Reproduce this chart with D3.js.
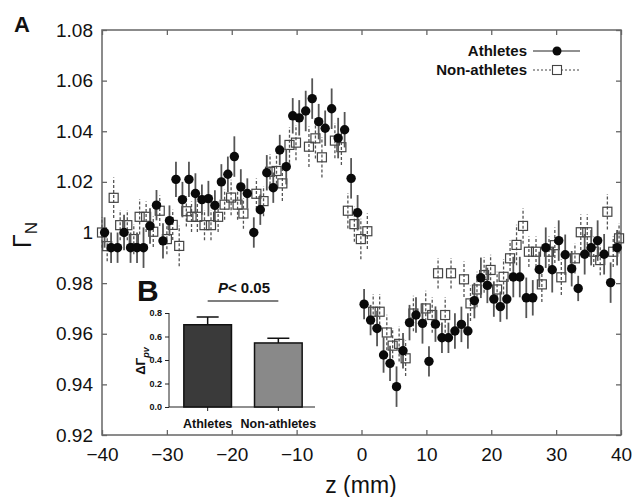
<!DOCTYPE html>
<html>
<head>
<meta charset="utf-8">
<script src="https://cdn.jsdelivr.net/npm/d3@7"></script>
<style>
  body { margin: 0; background: #fff; }
  svg { display: block; font-family: "Liberation Sans", Arial, sans-serif; }
</style>
</head>
<body>
<svg id="chart" width="636" height="497"></svg>
<script>
// athletes (filled circles), z in mm
var athZ = [-39.6,-38.6,-37.6,-36.6,-35.6,-34.6,-33.6,-32.6,-31.6,-30.6,-29.6,-28.6,-27.6,-26.6,-25.6,-24.6,-23.6,-22.6,-21.6,-20.6,
  -19.6,-18.6,-17.6,-16.6,-15.6,-14.6,-13.6,-12.6,-11.6,-10.6,-9.6,-8.6,-7.6,-6.6,-5.6,-4.6,-3.6,-2.6,-1.6,-0.6,
  0.4,1.4,2.4,3.4,4.4,5.4,6.4,7.4,8.4,9.4,10.4,11.4,12.4,13.4,14.4,15.4,16.4,17.4,18.4,19.4,
  20.4,21.4,22.4,23.4,24.4,25.4,26.4,27.4,28.4,29.4,30.4,31.4,32.4,33.4,34.4,35.4,36.4,37.4,38.4,39.4]
var athVal = [1.000,0.994,0.994,1.000,0.994,0.994,0.994,1.0026,1.0108,0.9967,1.0047,1.021,1.013,1.021,1.0154,1.013,1.0134,1.0107,1.020,1.023,
  1.030,1.018,1.0154,1.000,1.009,1.0236,1.0177,1.0326,1.026,1.0461,1.0453,1.048,1.0529,1.0438,1.0412,1.0489,1.0373,1.0406,1.0214,1.0078,
  0.9717,0.9654,0.9621,0.9516,0.9483,0.9391,0.9533,0.9644,0.9674,0.9641,0.9491,0.9638,0.9584,0.9584,0.9611,0.9637,0.9611,0.9731,0.9821,0.9791,
  0.9737,0.9707,0.9737,0.9824,0.9824,0.9742,0.9742,0.9854,0.9940,0.9853,0.9968,0.9912,0.9857,0.9779,0.9914,0.9940,0.9968,0.9914,0.9802,0.9940]
var athErr = [0.006,0.006,0.006,0.007,0.006,0.006,0.008,0.007,0.006,0.007,0.006,0.007,0.007,0.007,0.008,0.006,0.007,0.006,0.007,0.007,
  0.008,0.007,0.006,0.006,0.006,0.007,0.006,0.006,0.007,0.007,0.007,0.008,0.008,0.007,0.007,0.008,0.008,0.007,0.008,0.007,
  0.006,0.006,0.007,0.007,0.007,0.008,0.007,0.007,0.007,0.008,0.006,0.007,0.006,0.006,0.007,0.007,0.007,0.007,0.008,0.007,
  0.007,0.006,0.008,0.008,0.008,0.008,0.007,0.007,0.008,0.009,0.008,0.008,0.007,0.005,0.008,0.007,0.008,0.008,0.008,0.007]

// non-athletes (open squares)
var nonZ = [-40.0,-39.2,-38.2,-37.2,-36.1,-35.1,-34.2,-33.2,-32.1,-31.1,-30.0,-29.1,-28.1,-27.0,-26.2,-25.3,-24.2,-23.2,-22.1,-21.1,
  -20.1,-19.1,-18.2,-16.2,-15.1,-14.1,-13.1,-12.2,-11.1,-10.1,-8.1,-7.1,-6.1,-4.1,-3.1,-2.1,-1.1,-0.1,0.9,1.8,
  2.8,3.9,4.8,5.8,6.8,8.0,9.9,10.9,11.8,12.9,13.8,15.8,16.8,17.8,18.9,19.9,20.9,21.9,22.9,23.9,
  24.9,25.8,26.9,27.8,28.9,29.8,30.8,32.9,33.8,34.8,35.8,36.8,37.9,38.8,39.7]
var nonVal = [1.000,0.9946,1.0137,1.0029,1.0029,0.9974,1.0062,1.0062,1.0003,1.0086,0.9974,1.003,0.9947,1.0084,1.0062,1.0062,1.0029,1.0029,1.0062,1.011,
  1.0138,1.011,1.0075,1.0153,1.0124,1.024,1.0243,1.0194,1.0346,1.0355,1.0339,1.0372,1.0297,1.0363,1.0337,1.0086,1.0033,0.9974,1.0005,0.9687,
  0.9687,0.9605,0.9553,0.956,0.9503,0.968,0.970,0.9674,0.9839,0.9674,0.9839,0.9815,0.9720,0.9775,0.9832,0.9852,0.9775,0.9825,0.9898,0.9951,
  1.0026,0.9924,0.9924,0.9795,0.9924,0.9950,0.9823,0.9898,1.0001,1.0001,0.9924,0.9891,1.0082,0.9924,0.9977]
var nonErr = [0.006,0.006,0.008,0.006,0.006,0.006,0.007,0.006,0.006,0.006,0.006,0.006,0.008,0.006,0.006,0.006,0.006,0.006,0.006,0.006,
  0.007,0.006,0.006,0.006,0.006,0.007,0.007,0.007,0.007,0.007,0.008,0.008,0.008,0.007,0.007,0.007,0.007,0.008,0.007,0.007,
  0.007,0.007,0.007,0.007,0.007,0.007,0.007,0.007,0.006,0.007,0.006,0.007,0.007,0.007,0.007,0.006,0.007,0.007,0.007,0.008,
  0.007,0.006,0.006,0.007,0.006,0.007,0.007,0.006,0.007,0.007,0.006,0.006,0.007,0.006,0.006]

var xTicks = [-40,-30,-20,-10,0,10,20,30,40]
var yTicks = [0.92,0.94,0.96,0.98,1.00,1.02,1.04,1.06,1.08]

// inset B
var groups = ["Athletes", "Non-athletes"]
var groupVal = [0.70, 0.545]
var groupErr = [0.065, 0.04]
var insetTicks = [0, 0.2, 0.4, 0.6, 0.8]

var svg = d3.select("#chart")

var x = d3.scaleLinear().domain([-40, 40]).range([102, 621])
var y = d3.scaleLinear().domain([0.92, 1.08]).range([435, 30])

var frameColor = "#666"

// axes with inward ticks on all four sides
function styleAxis(g) {
  g.select(".domain").remove()
  g.selectAll(".tick line").attr("stroke", frameColor).attr("stroke-width", 1.3)
  g.selectAll("text").attr("fill", "#111").attr("font-size", 19)
}
svg.append("g").attr("transform", "translate(0,435)")
  .call(d3.axisBottom(x).tickValues(xTicks).tickSize(-5).tickPadding(13))
  .call(styleAxis)
svg.append("g").attr("transform", "translate(0,30)")
  .call(d3.axisTop(x).tickValues(xTicks).tickSize(-5).tickFormat(""))
  .call(styleAxis)
svg.append("g").attr("transform", "translate(102,0)")
  .call(d3.axisLeft(y).tickValues(yTicks).tickSize(-5).tickPadding(9)
    .tickFormat(d => Math.abs(d - 1) < 1e-9 ? "1" : d3.format(".2f")(d)))
  .call(styleAxis)
svg.append("g").attr("transform", "translate(621,0)")
  .call(d3.axisRight(y).tickValues(yTicks).tickSize(-5).tickFormat(""))
  .call(styleAxis)

svg.append("rect")
  .attr("x", x(-40)).attr("y", y(1.08))
  .attr("width", x(40) - x(-40)).attr("height", y(0.92) - y(1.08))
  .attr("fill", "none").attr("stroke", frameColor).attr("stroke-width", 1.5)

var athData = athZ.map((z, i) => ({z: z, v: athVal[i], e: athErr[i]}))
var nonData = nonZ.map((z, i) => ({z: z, v: nonVal[i], e: nonErr[i]}))

// non-athletes first, squares below the circles
var nonG = svg.append("g")
nonG.selectAll("line").data(nonData).join("line")
  .attr("x1", d => x(d.z)).attr("x2", d => x(d.z))
  .attr("y1", d => y(d.v - d.e)).attr("y2", d => y(d.v + d.e))
  .attr("stroke", "#555").attr("stroke-width", 1.3).attr("stroke-dasharray", "3,2")
nonG.selectAll("rect").data(nonData).join("rect")
  .attr("x", d => x(d.z) - 4.5).attr("y", d => y(d.v) - 4.5)
  .attr("width", 9).attr("height", 9)
  .attr("fill", "none").attr("stroke", "#444").attr("stroke-width", 1.2)

var athG = svg.append("g")
athG.selectAll("line").data(athData).join("line")
  .attr("x1", d => x(d.z)).attr("x2", d => x(d.z))
  .attr("y1", d => y(d.v - d.e)).attr("y2", d => y(d.v + d.e))
  .attr("stroke", "#555").attr("stroke-width", 1.8)
athG.selectAll("circle").data(athData).join("circle")
  .attr("cx", d => x(d.z)).attr("cy", d => y(d.v)).attr("r", 4.7)
  .attr("fill", "#0a0a0a")

// legend
var leg = svg.append("g").attr("font-weight", "bold").attr("font-size", 15).attr("fill", "#111")
leg.append("text").attr("x", 527).attr("y", 56).attr("text-anchor", "end").text("Athletes")
leg.append("line").attr("x1", 533).attr("x2", 580).attr("y1", 51).attr("y2", 51)
  .attr("stroke", "#222").attr("stroke-width", 1)
leg.append("circle").attr("cx", 557).attr("cy", 51).attr("r", 4.5).attr("fill", "#0a0a0a")
leg.append("text").attr("x", 527).attr("y", 75).attr("text-anchor", "end").text("Non-athletes")
leg.append("line").attr("x1", 533).attr("x2", 580).attr("y1", 70).attr("y2", 70)
  .attr("stroke", "#444").attr("stroke-width", 1).attr("stroke-dasharray", "2,2")
leg.append("rect").attr("x", 552.5).attr("y", 65.5).attr("width", 9).attr("height", 9)
  .attr("fill", "#fff").attr("stroke", "#444").attr("stroke-width", 1.1)

// titles
svg.append("text").attr("x", 14).attr("y", 32).attr("font-size", 22).attr("font-weight", "bold")
  .attr("fill", "#111").text("A")
svg.append("text").attr("x", 361).attr("y", 493).attr("text-anchor", "middle")
  .attr("font-size", 23).attr("fill", "#111").text("z (mm)")
var yl = svg.append("text").attr("transform", "translate(31,248) rotate(-90)")
  .attr("font-size", 25).attr("fill", "#111")
yl.append("tspan").text("Γ")
yl.append("tspan").attr("dy", 6).attr("font-size", 17).text("N")

// inset B
var ix = d3.scaleBand().domain(groups).range([169, 317]).paddingInner(0.326).paddingOuter(0.21)
var iy = d3.scaleLinear().domain([0, 0.8]).range([407, 313])
var inset = svg.append("g")

inset.append("g").attr("transform", "translate(169,0)")
  .call(d3.axisLeft(iy).tickValues(insetTicks).tickSize(4).tickPadding(3).tickFormat(d3.format(".1f")))
  .call(g => g.select(".domain").attr("stroke", "#222").attr("d", "M0," + iy(0.8) + "V" + iy(0)))
  .call(g => g.selectAll(".tick line").attr("stroke", "#222"))
  .call(g => g.selectAll("text").attr("font-size", 9).attr("font-weight", "bold").attr("fill", "#111"))

inset.append("line").attr("x1", 169).attr("x2", 315).attr("y1", 407).attr("y2", 407)
  .attr("stroke", "#222").attr("stroke-width", 1.2)
inset.selectAll(".xt").data(groups).join("line").attr("class", "xt")
  .attr("x1", d => ix(d) + ix.bandwidth() / 2).attr("x2", d => ix(d) + ix.bandwidth() / 2)
  .attr("y1", 407).attr("y2", 411).attr("stroke", "#222")
inset.selectAll(".xl").data(groups).join("text").attr("class", "xl")
  .attr("x", d => ix(d) + ix.bandwidth() / 2).attr("y", 428)
  .attr("text-anchor", "middle").attr("font-size", 12.5).attr("font-weight", "bold").attr("fill", "#111")
  .text(d => d)

var barFill = ["#3a3a3a", "#898989"]
inset.selectAll(".eb").data(groups).join("path").attr("class", "eb")
  .attr("d", (d, i) => {
    var cx = ix(d) + ix.bandwidth() / 2
    return "M" + cx + "," + iy(groupVal[i]) + "V" + iy(groupVal[i] + groupErr[i]) +
      "M" + (cx - 11) + "," + iy(groupVal[i] + groupErr[i]) + "H" + (cx + 11)
  })
  .attr("stroke", "#111").attr("stroke-width", 1.5).attr("fill", "none")
inset.selectAll(".bar").data(groups).join("rect").attr("class", "bar")
  .attr("x", d => ix(d)).attr("width", ix.bandwidth())
  .attr("y", (d, i) => iy(groupVal[i])).attr("height", (d, i) => iy(0) - iy(groupVal[i]))
  .attr("fill", (d, i) => barFill[i]).attr("stroke", "#111").attr("stroke-width", 1.5)

inset.append("text").attr("x", 137).attr("y", 301).attr("font-size", 30).attr("font-weight", "bold")
  .attr("fill", "#111").text("B")
var pt = inset.append("text").attr("x", 244).attr("y", 293).attr("text-anchor", "middle")
  .attr("font-size", 15).attr("font-weight", "bold").attr("fill", "#111")
pt.append("tspan").attr("font-style", "italic").text("P")
pt.append("tspan").text("< 0.05")
inset.append("line")
  .attr("x1", ix("Athletes") + ix.bandwidth() / 2).attr("x2", ix("Non-athletes") + ix.bandwidth() / 2)
  .attr("y1", 301).attr("y2", 301).attr("stroke", "#555").attr("stroke-width", 1.5)

var il = inset.append("text").attr("transform", "translate(145,361) rotate(-90)")
  .attr("text-anchor", "middle").attr("font-size", 13).attr("font-weight", "bold").attr("fill", "#111")
il.append("tspan").text("ΔΓ")
il.append("tspan").attr("dy", 4).attr("font-size", 9).attr("font-style", "italic").text("pv")
</script>
</body>
</html>
